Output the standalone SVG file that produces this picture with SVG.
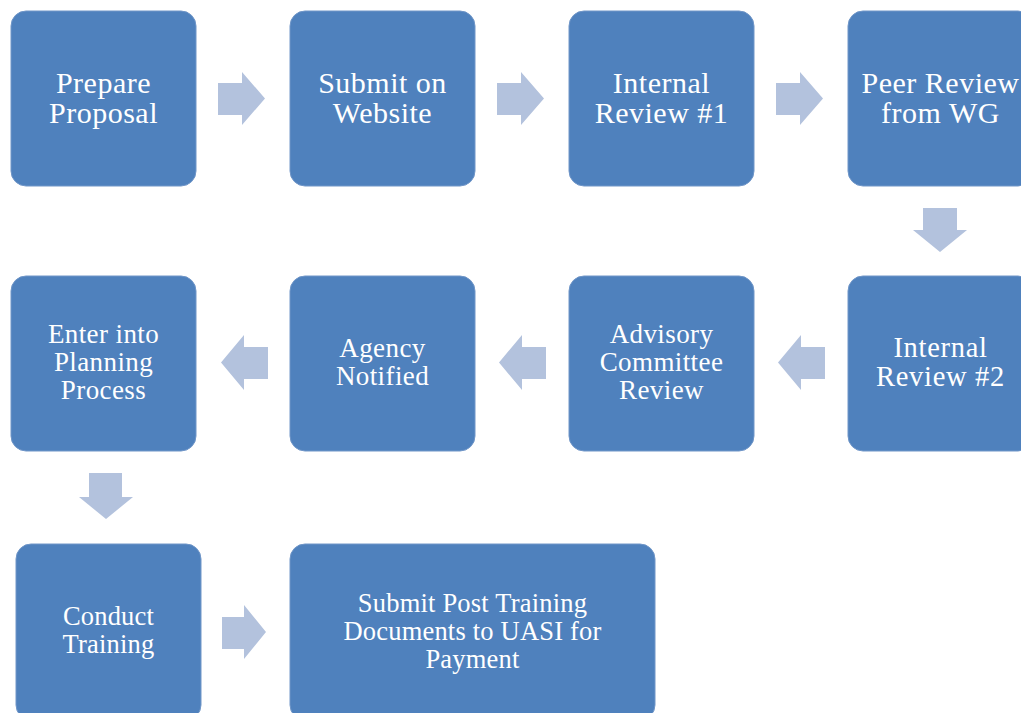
<svg xmlns="http://www.w3.org/2000/svg" width="1021" height="713" viewBox="0 0 1021 713">
<style>
.box{fill:#4F81BD;stroke:#7096C8;stroke-width:1}
.arr{fill:#B3C2DD}
text{font-family:"Liberation Serif","Times New Roman",serif;fill:#FFFFFF;text-anchor:middle}
.t1{font-size:30px;letter-spacing:0.5px}
.t4{font-size:28.5px;letter-spacing:0.7px}
.t2{font-size:27px;letter-spacing:0.4px}
.t3{font-size:26.5px;letter-spacing:0.2px}
</style>
<rect width="1021" height="713" fill="#FFFFFF"/>
<g id="connectors">
<polygon class="arr" points="218,83 242,83 242,72 265,98.5 242,125 242,115 218,115"/>
<polygon class="arr" points="497,83 521,83 521,72 544,98.5 521,125 521,115 497,115"/>
<polygon class="arr" points="776,83 800,83 800,72 823,98.5 800,125 800,115 776,115"/>
<polygon class="arr" points="923,208 957,208 957,230 967,230 940,252 913,230 923,230"/>
<polygon class="arr" points="825,347 801,347 801,335 778,362.5 801,390 801,379 825,379"/>
<polygon class="arr" points="546,347 522,347 522,335 499,362.5 522,390 522,379 546,379"/>
<polygon class="arr" points="268,347 244,347 244,335 221,362.5 244,390 244,379 268,379"/>
<polygon class="arr" points="89,473 122,473 122,497 133,497 106,519 79,497 89,497"/>
<polygon class="arr" points="222,617 244,617 244,605 266,632 244,659 244,649 222,649"/>
</g>
<g id="n1"><rect class="box" x="11" y="11" width="185" height="175" rx="15"/><text class="t1" x="103.5" y="93">Prepare</text><text class="t1" x="103.5" y="123">Proposal</text></g>
<g id="n2"><rect class="box" x="290" y="11" width="185" height="175" rx="15"/><text class="t1" x="382.5" y="93">Submit on</text><text class="t1" x="382.5" y="123">Website</text></g>
<g id="n3"><rect class="box" x="569" y="11" width="185" height="175" rx="15"/><text class="t1" x="661.5" y="93">Internal</text><text class="t1" x="661.5" y="123">Review #1</text></g>
<g id="n4"><rect class="box" x="848" y="11" width="185" height="175" rx="15"/><text class="t1" x="940.5" y="93">Peer Review</text><text class="t1" x="940.5" y="123">from WG</text></g>
<g id="n5"><rect class="box" x="848" y="276" width="185" height="175" rx="15"/><text class="t4" x="940.5" y="357">Internal</text><text class="t4" x="940.5" y="386">Review #2</text></g>
<g id="n6"><rect class="box" x="569" y="276" width="185" height="175" rx="15"/><text class="t2" x="661.5" y="343">Advisory</text><text class="t2" x="661.5" y="371">Committee</text><text class="t2" x="661.5" y="399">Review</text></g>
<g id="n7"><rect class="box" x="290" y="276" width="185" height="175" rx="15"/><text class="t2" x="382.5" y="357">Agency</text><text class="t2" x="382.5" y="385">Notified</text></g>
<g id="n8"><rect class="box" x="11" y="276" width="185" height="175" rx="15"/><text class="t2" x="103.5" y="343">Enter into</text><text class="t2" x="103.5" y="371">Planning</text><text class="t2" x="103.5" y="399">Process</text></g>
<g id="n9"><rect class="box" x="16" y="544" width="185" height="176" rx="15"/><text class="t3" x="108.5" y="625">Conduct</text><text class="t3" x="108.5" y="653">Training</text></g>
<g id="n10"><rect class="box" x="290" y="544" width="365" height="176" rx="15"/><text class="t3" x="472.5" y="612">Submit Post Training</text><text class="t3" x="472.5" y="640">Documents to UASI for</text><text class="t3" x="472.5" y="668">Payment</text></g>
</svg>
